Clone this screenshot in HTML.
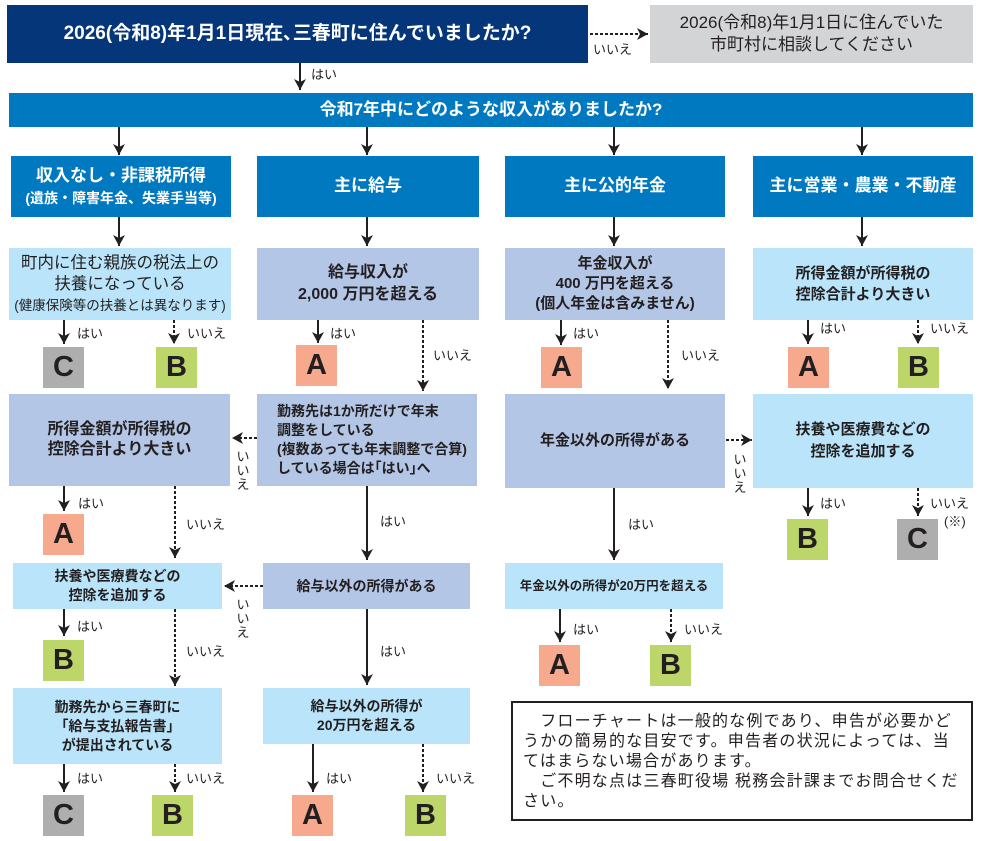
<!DOCTYPE html>
<html><head><meta charset="utf-8"><style>
*{margin:0;padding:0;box-sizing:border-box}
body{width:986px;height:841px;background:#fff;position:relative;overflow:hidden;font-family:"Liberation Sans","Noto Sans CJK JP",sans-serif;color:#231f20}
.b{position:absolute;display:flex;align-items:center;justify-content:center;text-align:center;font-weight:bold;line-height:1.3}
.b>div{width:100%}
.nv{background:#06367a;color:#fff}
.bl{background:#0079c1;color:#fff}
.lv{background:#b3c6e6}
.cy{background:#b9e4f9}
.L{position:absolute;width:41px;height:41px;display:flex;align-items:center;justify-content:center;font-size:29px;font-weight:bold;color:#231f20}
.la{background:#f7a98e}.lb{background:#bcd66a}.lc{background:#aeaeae}
.t{position:absolute;font-size:13px;color:#231f20;white-space:nowrap;line-height:14px}
.v{position:absolute;font-size:13px;width:14px;line-height:14px;text-align:center}
svg{position:absolute;left:0;top:0}
</style></head><body>
<div class="b nv" style="left:7px;top:5px;width:581px;height:58px;font-size:19px"><div>2026(令和8)年1月1日現在､三春町に住んでいましたか?</div></div>
<div class="b" style="left:650px;top:5px;width:323px;height:58px;background:#d3d4d6;font-weight:normal;font-size:17px;line-height:22px"><div>2026(令和8)年1月1日に住んでいた<br>市町村に相談してください</div></div>
<div class="b bl" style="left:9px;top:93px;width:964px;height:34px;font-size:17px"><div>令和7年中にどのような収入がありましたか?</div></div>

<div class="b bl" style="left:11px;top:156px;width:220px;height:61px;font-size:17px;line-height:22px"><div>収入なし・非課税所得<br><span style="font-size:14px">(遺族・障害年金、失業手当等)</span></div></div>
<div class="b bl" style="left:257px;top:156px;width:222px;height:61px;font-size:17px"><div>主に給与</div></div>
<div class="b bl" style="left:505px;top:156px;width:220px;height:61px;font-size:17px"><div>主に公的年金</div></div>
<div class="b bl" style="left:753px;top:156px;width:220px;height:61px;font-size:17px"><div>主に営業・農業・不動産</div></div>

<div class="b cy" style="left:9px;top:248px;width:222px;height:72px;font-size:16.5px;font-weight:normal;line-height:21px"><div>町内に住む親族の税法上の<br>扶養になっている<br><span style="font-size:13.5px">(健康保険等の扶養とは異なります)</span></div></div>
<div class="b lv" style="left:257px;top:248px;width:222px;height:72px;font-size:16px;line-height:22px"><div>給与収入が<br>2,000 万円を超える</div></div>
<div class="b lv" style="left:505px;top:248px;width:220px;height:72px;font-size:15px;line-height:20px"><div>年金収入が<br>400 万円を超える<br>(個人年金は含みません)</div></div>
<div class="b cy" style="left:753px;top:248px;width:220px;height:72px;font-size:15px;line-height:21px"><div>所得金額が所得税の<br>控除合計より大きい</div></div>

<div class="b lv" style="left:9px;top:394px;width:221px;height:92px;font-size:16px;line-height:20px"><div>所得金額が所得税の<br>控除合計より大きい</div></div>
<div class="b lv" style="left:257px;top:394px;width:220px;height:92px;font-size:14px;line-height:19px;text-align:left;padding-left:20px"><div>勤務先は1か所だけで年末<br>調整をしている<br>(複数あっても年末調整で合算)<br>している場合は｢はい｣へ</div></div>
<div class="b lv" style="left:505px;top:394px;width:220px;height:94px;font-size:15px"><div>年金以外の所得がある</div></div>
<div class="b cy" style="left:753px;top:394px;width:220px;height:94px;font-size:15px;line-height:22px"><div>扶養や医療費などの<br>控除を追加する</div></div>

<div class="b cy" style="left:13px;top:563px;width:209px;height:46px;font-size:14px;line-height:19px"><div>扶養や医療費などの<br>控除を追加する</div></div>
<div class="b lv" style="left:263px;top:563px;width:207px;height:46px;font-size:14px"><div>給与以外の所得がある</div></div>
<div class="b cy" style="left:505px;top:563px;width:218px;height:46px;font-size:12.5px"><div>年金以外の所得が20万円を超える</div></div>

<div class="b cy" style="left:13px;top:688px;width:209px;height:76px;font-size:14px;line-height:19px"><div>勤務先から三春町に<br>｢給与支払報告書｣<br>が提出されている</div></div>
<div class="b cy" style="left:263px;top:688px;width:207px;height:56px;font-size:14px;line-height:19px"><div>給与以外の所得が<br>20万円を超える</div></div>

<div style="position:absolute;left:511px;top:701px;width:462px;height:120px;border:2px solid #231f20;padding:9px 0 0 10px;font-size:16px;line-height:20px;letter-spacing:1.2px;white-space:nowrap">　フローチャートは一般的な例であり、申告が必要かど<br>うかの簡易的な目安です。申告者の状況によっては、当<br>てはまらない場合があります。<br>　ご不明な点は三春町役場 税務会計課までお問合せくだ<br>さい。</div>

<div class="L lc" style="left:43px;top:347px">C</div>
<div class="L lb" style="left:156px;top:347px">B</div>
<div class="L la" style="left:296px;top:345px">A</div>
<div class="L la" style="left:541px;top:347px">A</div>
<div class="L la" style="left:788px;top:347px">A</div>
<div class="L lb" style="left:898px;top:347px">B</div>
<div class="L la" style="left:43px;top:514px">A</div>
<div class="L lb" style="left:787px;top:519px">B</div>
<div class="L lc" style="left:897px;top:519px">C</div>
<div class="L lb" style="left:43px;top:640px">B</div>
<div class="L la" style="left:539px;top:645px">A</div>
<div class="L lb" style="left:650px;top:645px">B</div>
<div class="L lc" style="left:43px;top:795px">C</div>
<div class="L lb" style="left:152px;top:795px">B</div>
<div class="L la" style="left:292px;top:795px">A</div>
<div class="L lb" style="left:405px;top:795px">B</div>

<div class="t" style="left:593px;top:43px">いいえ</div>
<div class="t" style="left:311px;top:68px">はい</div>
<div class="t" style="left:77px;top:327px">はい</div>
<div class="t" style="left:187px;top:327px">いいえ</div>
<div class="t" style="left:330px;top:327px">はい</div>
<div class="t" style="left:433px;top:349px">いいえ</div>
<div class="t" style="left:573px;top:327px">はい</div>
<div class="t" style="left:681px;top:349px">いいえ</div>
<div class="t" style="left:820px;top:322px">はい</div>
<div class="t" style="left:930px;top:322px">いいえ</div>
<div class="t" style="left:78px;top:497px">はい</div>
<div class="t" style="left:186px;top:518px">いいえ</div>
<div class="t" style="left:380px;top:515px">はい</div>
<div class="t" style="left:628px;top:518px">はい</div>
<div class="t" style="left:820px;top:497px">はい</div>
<div class="t" style="left:930px;top:497px">いいえ</div>
<div class="t" style="left:944px;top:515px">(※)</div>
<div class="t" style="left:77px;top:620px">はい</div>
<div class="t" style="left:186px;top:645px">いいえ</div>
<div class="t" style="left:573px;top:623px">はい</div>
<div class="t" style="left:684px;top:623px">いいえ</div>
<div class="t" style="left:380px;top:645px">はい</div>
<div class="t" style="left:77px;top:772px">はい</div>
<div class="t" style="left:186px;top:772px">いいえ</div>
<div class="t" style="left:326px;top:772px">はい</div>
<div class="t" style="left:436px;top:772px">いいえ</div>
<div class="v" style="left:236px;top:450px">い<br>い<br>え</div>
<div class="v" style="left:236px;top:598px">い<br>い<br>え</div>
<div class="v" style="left:733px;top:453px">い<br>い<br>え</div>

<svg width="986" height="841" viewBox="0 0 986 841">
<defs><marker id="a" markerUnits="userSpaceOnUse" markerWidth="12" markerHeight="12" refX="11" refY="6" orient="auto"><path d="M0,0 L11,6 L0,12 L3,6 z" fill="#231f20"/></marker></defs>
<g stroke="#231f20" stroke-width="2" fill="none" marker-end="url(#a)">
<line x1="300" y1="63" x2="300" y2="90"/>
<line x1="119" y1="127" x2="119" y2="155"/><line x1="367" y1="127" x2="367" y2="155"/><line x1="614" y1="127" x2="614" y2="155"/><line x1="862" y1="127" x2="862" y2="155"/>
<line x1="119" y1="217" x2="119" y2="246"/><line x1="367" y1="217" x2="367" y2="246"/><line x1="614" y1="217" x2="614" y2="246"/><line x1="862" y1="217" x2="862" y2="246"/>
<line x1="64" y1="320" x2="64" y2="344"/><line x1="318" y1="320" x2="318" y2="343"/><line x1="561" y1="320" x2="561" y2="345"/><line x1="808" y1="320" x2="808" y2="344"/>
<line x1="64" y1="486" x2="64" y2="511"/><line x1="367" y1="486" x2="367" y2="560"/><line x1="614" y1="488" x2="614" y2="560"/><line x1="808" y1="488" x2="808" y2="516"/>
<line x1="64" y1="609" x2="64" y2="636"/><line x1="560" y1="609" x2="560" y2="642"/><line x1="367" y1="609" x2="367" y2="685"/>
<line x1="64" y1="764" x2="64" y2="792"/><line x1="313" y1="744" x2="313" y2="792"/>
</g>
<g stroke="#231f20" stroke-width="2" stroke-dasharray="3,2" fill="none" marker-end="url(#a)">
<line x1="590" y1="34" x2="648" y2="34"/>
<line x1="174" y1="320" x2="174" y2="344"/><line x1="423" y1="320" x2="423" y2="391"/><line x1="668" y1="320" x2="668" y2="389"/><line x1="918" y1="320" x2="918" y2="344"/>
<line x1="257" y1="438" x2="232" y2="438"/><line x1="726" y1="440" x2="752" y2="440"/>
<line x1="175" y1="486" x2="175" y2="558"/><line x1="918" y1="488" x2="918" y2="516"/>
<line x1="263" y1="586" x2="224" y2="586"/><line x1="175" y1="609" x2="175" y2="686"/><line x1="671" y1="609" x2="671" y2="642"/>
<line x1="175" y1="764" x2="175" y2="792"/><line x1="423" y1="744" x2="423" y2="792"/>
</g>
</svg>
</body></html>
